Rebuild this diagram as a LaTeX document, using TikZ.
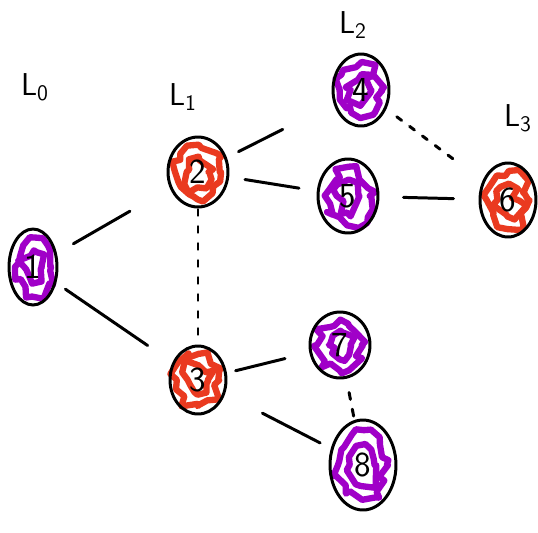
\documentclass[tikz,border=0pt]{standalone}
\usetikzlibrary{shapes.geometric,decorations.pathmorphing}

\definecolor{scribblepurple}{RGB}{160,0,200}
\definecolor{scribblered}{RGB}{234,58,32}

\tikzstyle{vertex}=[ellipse, draw, line width=1.7pt, inner sep=0pt, font=\sffamily\fontsize{20}{20}\selectfont]
\tikzstyle{scribble}=[line width=3.6pt, line join=round, line cap=round, decorate, decoration={random steps, segment length=4pt, amplitude=3.5pt}]
\tikzstyle{level}=[font=\sffamily\fontsize{18}{18}\selectfont]

\begin{document}
\begin{tikzpicture}[x=0.02cm, y=-0.02cm]
\pgfmathsetseed{11}
\useasboundingbox (0,0) rectangle (538,532);

% vertices: name/x/y/rx/ry/colour
\foreach \n/\x/\y/\rx/\ry/\c in {1/33/267/24/38/scribblepurple, 2/198/172/30/35/scribblered,
    3/198/380/28/34/scribblered, 4/361/90/28/36/scribblepurple, 5/348/196/30/37/scribblepurple,
    6/508/200/28/37/scribblered, 7/340/345/30/33/scribblepurple, 8/363/465/33/45/scribblepurple}{
  \draw[scribble, \c] (\x,\y) ellipse [x radius={\rx*0.0145cm}, y radius={\ry*0.0145cm}];
  \draw[scribble, \c] (\x,\y) ellipse [x radius={\rx*0.007cm}, y radius={\ry*0.008cm}];
  \node[vertex, minimum width={\rx*0.04cm}, minimum height={\ry*0.04cm}] (n\n) at (\x,\y) {\n};
}

\node[level] (l0) at (35,87) {L\textsubscript{0}};
\node[level] (l1) at (183,97) {L\textsubscript{1}};
\node[level] (l2) at (353,25) {L\textsubscript{2}};
\node[level] (l3) at (518,118) {L\textsubscript{3}};

\begin{scope}[every path/.style={line width=1.7pt, line cap=round}]
       \draw[shorten <=0.38cm, shorten >=0.92cm] (n1) -- (n2);
       \draw[shorten <=0.22cm, shorten >=0.60cm] (n1) -- (n3);
       \draw[shorten <=0.26cm, shorten >=1.14cm] (n2) -- (n4);
       \draw[shorten <=0.32cm, shorten >=0.36cm] (n2) -- (n5);
       \draw[dash pattern=on 0.12cm off 0.22cm, shorten <=0.02cm, shorten >=0.12cm] (n2) -- (n3);
       \draw[dash pattern=on 0.12cm off 0.2cm, shorten <=0.26cm, shorten >=0.64cm] (n4) -- (n6);
       \draw[shorten <=0.48cm, shorten >=0.50cm] (n5) -- (n6);
       \draw[shorten <=0.18cm, shorten >=0.50cm] (n3) -- (n7);
       \draw[shorten <=0.84cm, shorten >=0.24cm] (n3) -- (n8);
       \draw[dash pattern=on 0.14cm off 0.2cm, shorten <=0.28cm, shorten >=0.02cm] (n7) -- (n8);
\end{scope}
\end{tikzpicture}
\end{document}
